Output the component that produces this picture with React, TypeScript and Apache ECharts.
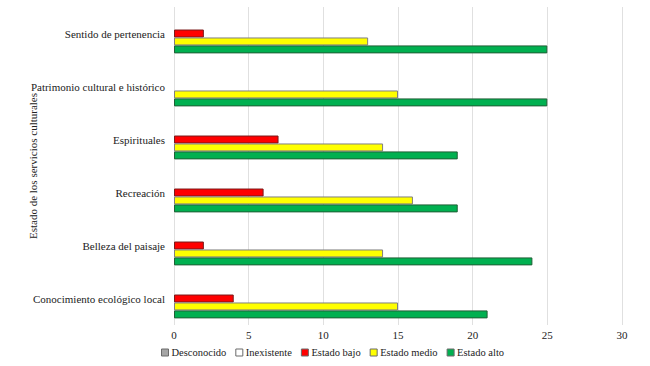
import React, { useEffect, useRef } from "react";
import * as echarts from "echarts";

const categories = [
  "Sentido de pertenencia",
  "Patrimonio cultural e histórico",
  "Espirituales",
  "Recreación",
  "Belleza del paisaje",
  "Conocimiento ecológico local",
];
const seriesNames = ["Desconocido", "Inexistente", "Estado bajo", "Estado medio", "Estado alto"];
const desconocido = [0, 0, 0, 0, 0, 0];
const inexistente = [0, 0, 0, 0, 0, 0];
const estadoBajo = [2, 0, 7, 6, 2, 4];
const estadoMedio = [13, 15, 14, 16, 14, 15];
const estadoAlto = [25, 25, 19, 19, 24, 21];

const colors = ["#A5A5A5", "#FFFFFF", "#FF0000", "#FFFF00", "#00B050"];
const borders = ["#6b6b6b", "#6b6b6b", "#7a1a1a", "#7f7f7f", "#1f5f35"];

export default function App() {
  const ref = useRef<HTMLDivElement>(null);
  useEffect(() => {
    if (!ref.current) return;
    const chart = echarts.init(ref.current, null, { renderer: "svg" });
    const values = [desconocido, inexistente, estadoBajo, estadoMedio, estadoAlto];
    const font = "Liberation Serif, Times New Roman, serif";
    chart.setOption({
      animation: false,
      textStyle: { fontFamily: font },
      grid: { left: 174, right: 28, top: 7, bottom: 41, containLabel: false },
      legend: {
        bottom: 3,
        left: 156,
        itemWidth: 7,
        itemHeight: 7,
        itemGap: 9,
        icon: "rect",
        textStyle: { fontFamily: font, fontSize: 10.5, color: "#222", padding: [0, 0, 0, -2] },
        data: seriesNames.map((n, i) => ({
          name: n,
          itemStyle: { color: colors[i], borderColor: "#6b6b6b", borderWidth: 1 },
        })),
      },
      xAxis: {
        type: "value",
        min: 0,
        max: 30,
        interval: 5,
        axisLine: { show: false },
        axisTick: { show: false },
        axisLabel: { fontFamily: font, fontSize: 11, color: "#222", margin: 4 },
        splitLine: { show: true, lineStyle: { color: "#e0e0e0", width: 1 } },
      },
      yAxis: {
        type: "category",
        data: categories,
        inverse: true,
        axisLine: { show: false },
        axisTick: { show: false },
        axisLabel: { fontFamily: font, fontSize: 11, color: "#222", margin: 9 },
        name: "Estado de los servicios culturales",
        nameLocation: "middle",
        nameRotate: 90,
        nameGap: 136,
        nameMoveOverlap: false,
        nameTextStyle: { fontFamily: font, fontSize: 11, color: "#222" },
      },
      series: seriesNames.map((n, i) => ({
        name: n,
        type: "bar",
        data: values[i].map((v) => (v === 0 ? "-" : v)),
        barGap: "0%",
        barCategoryGap: "25%",
        itemStyle: { color: colors[i], borderColor: borders[i], borderWidth: 1 },
      })),
    });
    return () => chart.dispose();
  }, []);
  return <div ref={ref} style={{ width: 650, height: 366, position: "absolute", left: 0, top: 0 }} />;
}
